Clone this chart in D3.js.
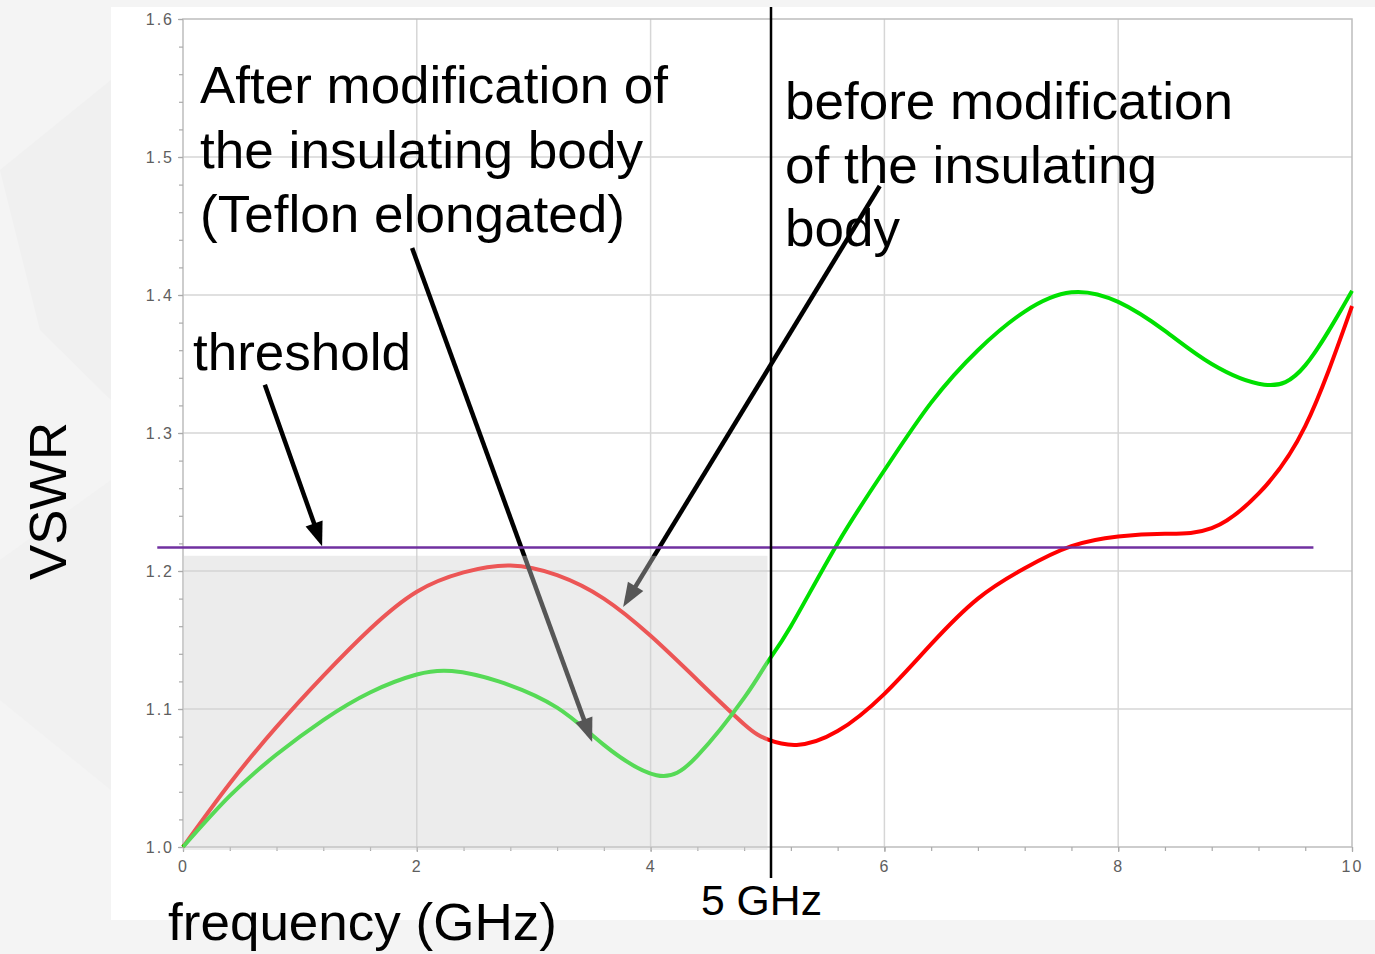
<!DOCTYPE html>
<html>
<head>
<meta charset="utf-8">
<script src="https://cdn.jsdelivr.net/npm/d3@7/dist/d3.min.js"></script>
<style>
  html, body { margin: 0; padding: 0; background: #f4f4f4; overflow: hidden; }
  svg { display: block; }
  text { font-family: "Liberation Sans", Arial, sans-serif; }
</style>
</head>
<body>
<svg id="chart" width="1375" height="954"></svg>
<script>
// Axis ticks
const xMajorTicks = [0, 2, 4, 6, 8, 10];
const yMajorTicks = [1.0, 1.1, 1.2, 1.3, 1.4, 1.5, 1.6];

// VSWR before modification of the insulating body (red)
const freqBefore = [0, 0.4, 0.8, 1.2, 1.6, 2.0, 2.4, 2.8, 3.2, 3.6, 4.0, 4.4, 4.8, 5.0, 5.25, 5.6, 6.0, 6.4, 6.8, 7.2, 7.6, 8.0, 8.4, 8.8, 9.2, 9.6, 10];
const vswrBefore = [1.000, 1.046, 1.087, 1.124, 1.158, 1.185, 1.199, 1.204, 1.197, 1.180, 1.153, 1.121, 1.089, 1.078, 1.074, 1.084, 1.111, 1.147, 1.180, 1.202, 1.218, 1.225, 1.227, 1.231, 1.256, 1.305, 1.392];

// VSWR after modification (Teflon elongated, green)
const freqAfter = [0, 0.4, 0.8, 1.2, 1.6, 2.0, 2.3, 2.7, 3.2, 3.6, 4.05, 4.4, 4.8, 5.0, 5.2, 5.6, 6.0, 6.4, 6.8, 7.2, 7.6, 8.0, 8.4, 8.8, 9.25, 9.6, 10];
const vswrAfter = [1.000, 1.037, 1.067, 1.092, 1.112, 1.125, 1.1275, 1.120, 1.101, 1.074, 1.052, 1.066, 1.108, 1.134, 1.160, 1.220, 1.273, 1.322, 1.360, 1.388, 1.402, 1.395, 1.374, 1.350, 1.335, 1.349, 1.403];

// Reference levels
const thresholdVSWR = 1.217;
const thresholdSpan = [-0.22, 9.67];
const markerFreq = 5.03;
const bandLimit = 5.0;
const bandTop = 1.211;

const svg = d3.select("#chart");

const x = d3.scaleLinear().domain([0, 10]).range([183, 1352]);
const y = d3.scaleLinear().domain([1.0, 1.6]).range([847, 19]);

// Faint slide background shapes
const bg = svg.append("g");
bg.append("rect").attr("width", 1375).attr("height", 954).attr("fill", "#f4f4f4");
bg.append("path").attr("d", "M0,170 L111,80 L111,400 L40,330 Z").attr("fill", "#f0f0f0");
bg.append("path").attr("d", "M0,560 L111,480 L111,790 L0,700 Z").attr("fill", "#f1f1f1");

// White chart panel
svg.append("rect").attr("x", 111).attr("y", 7).attr("width", 1264).attr("height", 913).attr("fill", "#ffffff");

// Grid
const grid = svg.append("g").attr("stroke", "#d6d6d6").attr("stroke-width", 1.5);
grid.selectAll("line.gx").data(xMajorTicks.slice(1, -1)).join("line")
  .attr("x1", d => x(d)).attr("x2", d => x(d)).attr("y1", y(1.6)).attr("y2", y(1.0));
grid.selectAll("line.gy").data(yMajorTicks.slice(1, -1)).join("line")
  .attr("y1", d => y(d)).attr("y2", d => y(d)).attr("x1", x(0)).attr("x2", x(10));

// Plot frame
svg.append("rect")
  .attr("x", x(0)).attr("y", y(1.6)).attr("width", x(10) - x(0)).attr("height", y(1.0) - y(1.6))
  .attr("fill", "none").attr("stroke", "#bdbdbd").attr("stroke-width", 1.5);

// Axes
function styleAxis(g) {
  g.select(".domain").remove();
  g.selectAll(".tick line").attr("stroke", "#aaaaaa").attr("stroke-width", 1.2);
  g.selectAll(".tick text").attr("fill", "#5e5e5e").attr("font-size", 16)
    .attr("letter-spacing", "2px").attr("font-family", "\"Liberation Sans\", Arial, sans-serif");
}
svg.append("g").attr("transform", `translate(${x(0)},0)`)
  .call(d3.axisLeft(y).tickValues(d3.range(1.0, 1.6001, 0.02)).tickSize(4).tickFormat(""))
  .call(styleAxis);
svg.append("g").attr("transform", `translate(${x(0)},0)`)
  .call(d3.axisLeft(y).tickValues(yMajorTicks).tickSize(5).tickPadding(4).tickFormat(d3.format(".1f")))
  .call(styleAxis);
svg.append("g").attr("transform", `translate(0,${y(1.0)})`)
  .call(d3.axisBottom(x).tickValues(d3.range(0, 10.001, 0.4)).tickSize(4).tickFormat(""))
  .call(styleAxis);
svg.append("g").attr("transform", `translate(0,${y(1.0)})`)
  .call(d3.axisBottom(x).tickValues(xMajorTicks).tickSize(5).tickPadding(9).tickFormat(d3.format("d")))
  .call(styleAxis);

// Curves
const line = d3.line().x(d => x(d[0])).y(d => y(d[1])).curve(d3.curveNatural);
svg.append("path").datum(d3.zip(freqBefore, vswrBefore))
  .attr("d", line).attr("fill", "none").attr("stroke", "#ff0000").attr("stroke-width", 4)
  .attr("stroke-linejoin", "round");
svg.append("path").datum(d3.zip(freqAfter, vswrAfter))
  .attr("d", line).attr("fill", "none").attr("stroke", "#00e000").attr("stroke-width", 4)
  .attr("stroke-linejoin", "round");

// Annotation arrows, endpoints in data units [freq, vswr]
const arrows = [
  { from: [0.70, 1.335], to: [1.19, 1.218] },
  { from: [1.96, 1.434], to: [3.50, 1.076] },
  { from: [5.96, 1.479], to: [3.765, 1.174] }
];
const arrowG = svg.append("g");
arrows.forEach(a => {
  const x1 = x(a.from[0]), y1 = y(a.from[1]), x2 = x(a.to[0]), y2 = y(a.to[1]);
  const len = Math.hypot(x2 - x1, y2 - y1);
  const ux = (x2 - x1) / len, uy = (y2 - y1) / len;
  const head = 24, half = 9;
  const bx = x2 - ux * head, by = y2 - uy * head;
  arrowG.append("line").attr("x1", x1).attr("y1", y1).attr("x2", bx + ux * 3).attr("y2", by + uy * 3)
    .attr("stroke", "#000").attr("stroke-width", 4.5);
  arrowG.append("path")
    .attr("d", `M${x2},${y2} L${bx - uy * half},${by + ux * half} L${bx + uy * half},${by - ux * half} Z`)
    .attr("fill", "#000");
});

// Translucent band below 5 GHz
svg.append("rect")
  .attr("x", x(0)).attr("y", y(bandTop))
  .attr("width", x(bandLimit) - x(0)).attr("height", y(1.0) - y(bandTop) + 3)
  .attr("fill", "rgb(208,208,208)").attr("fill-opacity", 0.41);

// Threshold line
svg.append("line")
  .attr("x1", x(thresholdSpan[0])).attr("x2", x(thresholdSpan[1]))
  .attr("y1", y(thresholdVSWR)).attr("y2", y(thresholdVSWR))
  .attr("stroke", "#7030a0").attr("stroke-width", 2.5);

// 5 GHz marker line
svg.append("line")
  .attr("x1", x(markerFreq)).attr("x2", x(markerFreq))
  .attr("y1", 7).attr("y2", 878)
  .attr("stroke", "#000").attr("stroke-width", 2.5);

// Text labels
function label(txt, px, py, size, len) {
  svg.append("text").attr("x", px).attr("y", py).attr("font-size", size)
    .attr("fill", "#000").attr("textLength", len).attr("lengthAdjust", "spacingAndGlyphs").text(txt);
}
label("After modification of", 200, 103, 52, 468);
label("the insulating body", 200, 168, 52, 443);
label("(Teflon elongated)", 200, 232, 52, 425);
label("before modification", 785, 119, 52, 448);
label("of the insulating", 785, 183, 52, 372);
label("body", 785, 246, 52, 115);
label("threshold", 193, 370, 52, 218);
label("frequency (GHz)", 168, 940, 52, 389);
label("5 GHz", 701, 915, 43, 121);

svg.append("text")
  .attr("transform", "translate(66,501) rotate(-90)")
  .attr("text-anchor", "middle").attr("font-size", 52).attr("fill", "#000")
  .attr("textLength", 158).attr("lengthAdjust", "spacingAndGlyphs")
  .text("VSWR");
</script>
</body>
</html>
